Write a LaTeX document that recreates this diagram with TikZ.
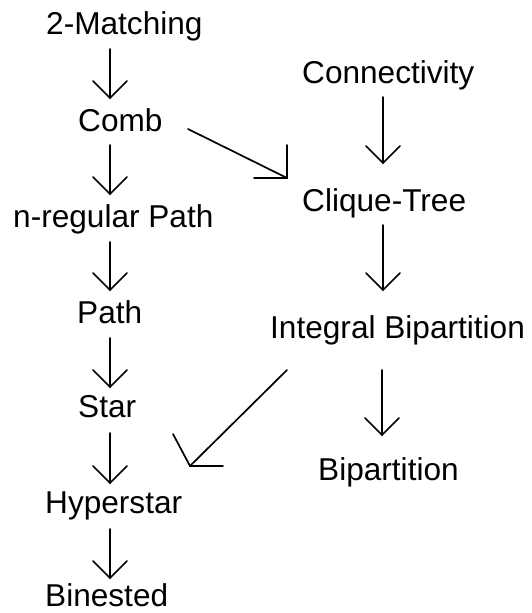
\documentclass[tikz,border=0pt]{standalone}
\usepackage{fontspec}
\setmainfont{Liberation Sans}
\newcommand\vhead[1]{\draw[ln] (#1) ++(-17,-17) -- (#1) -- ++(17,-17);}
\begin{document}
\begin{tikzpicture}[x=1pt,y=-1pt,
  lbl/.style={anchor=base west, inner sep=0pt, font=\fontsize{31.6}{38}\selectfont},
  ln/.style={line width=1.7pt, line cap=round, line join=miter}]
\useasboundingbox (0,0) rectangle (531,613);
% labels
\node[lbl] (m2) at (46,34) {2-Matching};
\node[lbl] (comb) at (78,131) {Comb};
\node[lbl] (nreg) at (13,227) {n-regular Path};
\node[lbl] (path) at (77,323) {Path};
\node[lbl] (star) at (78,417) {Star};
\node[lbl] (hyper) at (45,513) {Hyperstar};
\node[lbl] (bin) at (45,606) {Binested};
\node[lbl] (conn) at (302,83) {Connectivity};
\node[lbl] (cliq) at (302,211) {Clique-Tree};
\node[lbl] (ibip) at (270,338) {Integral Bipartition};
\node[lbl] (bip) at (318,480) {Bipartition};
% arrow end points
\coordinate (m2s) at (110,49);   \coordinate (m2t) at (110,98);
\coordinate (cbs) at (110,145);  \coordinate (cbt) at (110,194);
\coordinate (nrs) at (110,242);  \coordinate (nrt) at (110,290);
\coordinate (pas) at (110,338);  \coordinate (pat) at (110,387);
\coordinate (sts) at (110,433);  \coordinate (stt) at (110,483);
\coordinate (hys) at (110,529);  \coordinate (hyt) at (110,578);
\coordinate (cos) at (383,97);   \coordinate (cot) at (383,163);
\coordinate (cls) at (383,225);  \coordinate (clt) at (383,290);
\coordinate (ibs) at (382,370);  \coordinate (ibt) at (382,435);
\coordinate (dgs1) at (188,129); \coordinate (dgt1) at (287,178);
\coordinate (dgs2) at (287,370); \coordinate (dgt2) at (190,466);
% vertical connectors
\foreach \a in {m2,cb,nr,pa,st,hy,co,cl,ib}{
  \draw[ln] (\a s) -- (\a t);
  \vhead{\a t}
}
% Comb -> Clique-Tree
\draw[ln] (dgs1) -- (dgt1);
\draw[ln] (dgt1) ++(0,-33) -- (dgt1) -- ++(-33,0);
% Integral Bipartition -> Hyperstar
\draw[ln] (dgs2) -- (dgt2);
\draw[ln] (dgt2) ++(-17,-32) -- (dgt2) -- ++(33,0);
\end{tikzpicture}
\end{document}
